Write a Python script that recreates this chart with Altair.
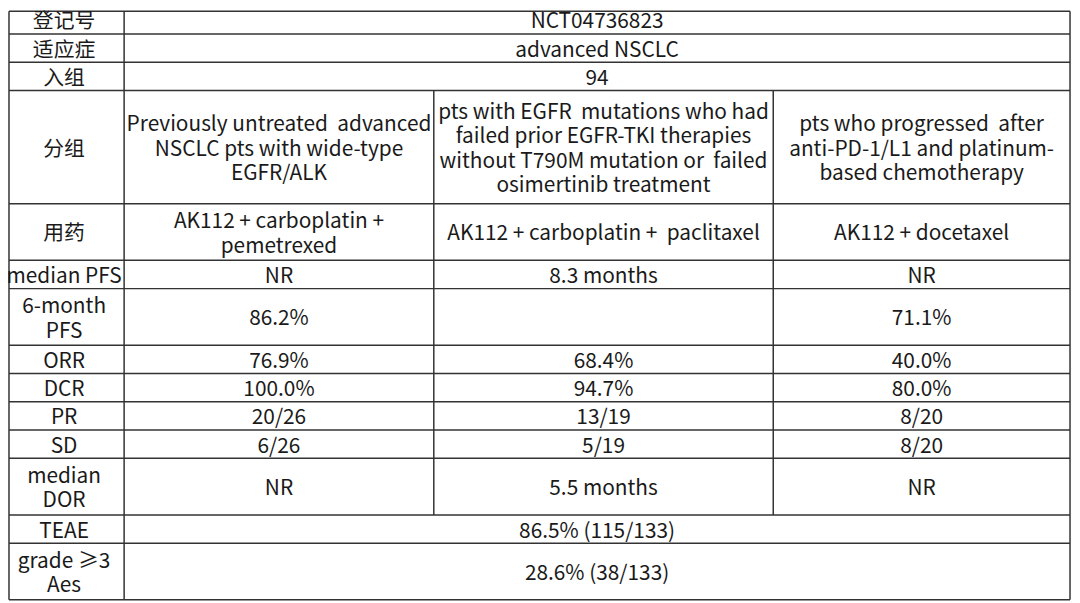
import altair as alt
import pandas as pd

# ---------------- data ----------------
row_labels = ["登记号", "适应症", "入组", "分组", "用药", "median PFS", "6-month\nPFS",
              "ORR", "DCR", "PR", "SD", "median\nDOR", "TEAE", "grade ≥3\nAes"]

# text spanning all three cohort columns ("" when the row is split)
spanning = ["NCT04736823", "advanced NSCLC", "94", "", "", "", "", "", "", "", "", "",
            "86.5% (115/133)", "28.6% (38/133)"]

cohort_a = ["", "", "",
            "Previously untreated  advanced\nNSCLC pts with wide-type\nEGFR/ALK",
            "AK112 + carboplatin +\npemetrexed",
            "NR", "86.2%", "76.9%", "100.0%", "20/26", "6/26", "NR", "", ""]
cohort_b = ["", "", "",
            "pts with EGFR  mutations who had\nfailed prior EGFR-TKI therapies\nwithout T790M mutation or  failed\nosimertinib treatment",
            "AK112 + carboplatin +  paclitaxel",
            "8.3 months", "", "68.4%", "94.7%", "13/19", "5/19", "5.5 months", "", ""]
cohort_c = ["", "", "",
            "pts who progressed  after\nanti-PD-1/L1 and platinum-\nbased chemotherapy",
            "AK112 + docetaxel",
            "NR", "71.1%", "40.0%", "80.0%", "8/20", "8/20", "NR", "", ""]

# ---------------- layout ----------------
ROW_UNITS = [1, 1, 1, 4, 2, 1, 2, 1, 1, 1, 1, 2, 1, 2]
UNIT = 28.5
TOP = 3.5
COL_EDGES = [4, 125, 437, 779, 1078]
VIEW_X = (8, 1080)
VIEW_Y = (8, 603)
LINE_H = 24.5
TEXT_SHIFT = 2.5

edges = [TOP]
for u in ROW_UNITS:
    edges.append(edges[-1] + u * UNIT)


def cx(v):
    return min(max(v, VIEW_X[0] + 1), VIEW_X[1] - 1)


def cy(v):
    return min(max(v, VIEW_Y[0] + 1), VIEW_Y[1] - 1)


left, right = cx(COL_EDGES[0]), cx(COL_EDGES[-1])
top, bottom = cy(edges[0]), cy(edges[-1])

# horizontal lines
hl = pd.DataFrame([{"x": left, "x2": right, "y": cy(e), "y2": cy(e)} for e in edges])

# vertical lines
vl_rows = [
    {"x": left, "x2": left, "y": top, "y2": bottom},
    {"x": cx(COL_EDGES[1]), "x2": cx(COL_EDGES[1]), "y": top, "y2": bottom},
    {"x": right, "x2": right, "y": top, "y2": bottom},
]
split = [i for i, s in enumerate(spanning) if s == ""]
y_start, y_end = edges[min(split)], edges[max(split) + 1]
for c in COL_EDGES[2:4]:
    vl_rows.append({"x": c, "x2": c, "y": y_start, "y2": y_end})
lines = pd.concat([hl, pd.DataFrame(vl_rows)], ignore_index=True)


def cell(x, i, txt):
    n = txt.count("\n") + 1
    ymid = (edges[i] + edges[i + 1]) / 2 + TEXT_SHIFT
    return {"x": x, "y": ymid - (n - 1) / 2 * LINE_H, "t": txt.replace("  ", " \u00a0")}


cells = []
for i, lab in enumerate(row_labels):
    cells.append(cell((COL_EDGES[0] + COL_EDGES[1]) / 2, i, lab))
    if spanning[i]:
        cells.append(cell((COL_EDGES[1] + COL_EDGES[4]) / 2, i, spanning[i]))
    else:
        for k, col in enumerate([cohort_a, cohort_b, cohort_c]):
            if col[i]:
                cells.append(cell((COL_EDGES[k + 1] + COL_EDGES[k + 2]) / 2, i, col[i]))
texts = pd.DataFrame(cells)

xs = alt.Scale(domain=list(VIEW_X), nice=False, zero=False)
ys = alt.Scale(domain=list(VIEW_Y), nice=False, zero=False, reverse=True)

rules = alt.Chart(lines).mark_rule(color="#333333", strokeWidth=1.5).encode(
    x=alt.X("x:Q", scale=xs, axis=None),
    x2="x2:Q",
    y=alt.Y("y:Q", scale=ys, axis=None),
    y2="y2:Q",
)

labels = alt.Chart(texts).mark_text(
    font="Noto Sans CJK SC", fontSize=21, lineBreak="\n", lineHeight=LINE_H,
    align="center", baseline="middle", color="#1a1a1a"
).encode(
    x=alt.X("x:Q", scale=xs, axis=None),
    y=alt.Y("y:Q", scale=ys, axis=None),
    text="t:N",
)

chart = alt.layer(rules, labels).properties(
    width=VIEW_X[1] - VIEW_X[0], height=VIEW_Y[1] - VIEW_Y[0],
    autosize=alt.AutoSizeParams(type="none"), padding=0, background="white"
).configure_view(stroke=None)

chart.save("out.html", embed_options={"renderer": "svg", "actions": False})
